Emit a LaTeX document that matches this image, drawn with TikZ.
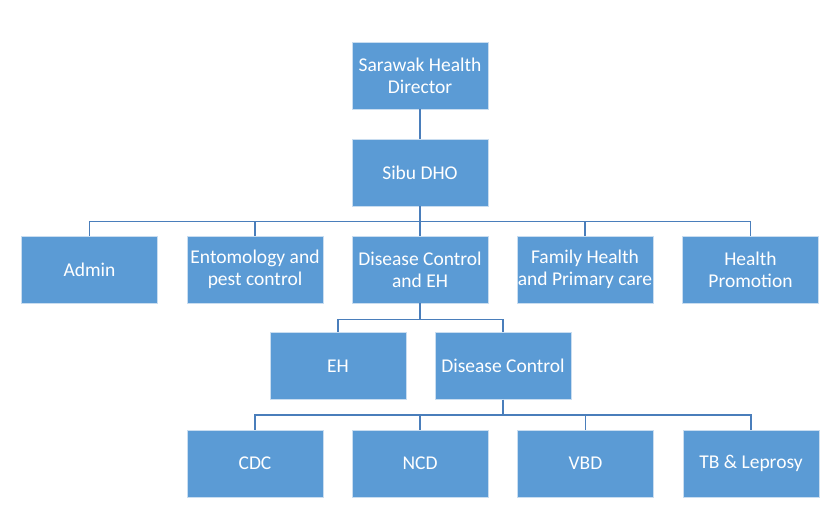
\documentclass[tikz,border=0pt]{standalone}
\usepackage{fontspec}
\setmainfont{Carlito}

\definecolor{boxblue}{HTML}{5B9BD5}
\definecolor{boxrim}{HTML}{C9DDF0}
\definecolor{linkblue}{HTML}{4A7EBB}

\begin{document}
\begin{tikzpicture}[x=1pt,y=-1pt,
  unit/.style={draw=boxrim, line width=0.8pt, fill=boxblue, text=white,
    minimum width=136pt, minimum height=67pt, inner sep=0pt,
    align=center, font=\fontsize{19.5}{22}\selectfont},
  link/.style={draw=linkblue, line width=1.2pt}]

\useasboundingbox (0,0) rectangle (840,520);

% top of the tree
\node[unit] (director) at (420,75.5) {Sarawak Health\\Director};
\node[unit] (sibu) at (420,172.5) {Sibu DHO};

% units under the DHO
\node[unit] (admin) at (89.5,269.5) {Admin};
\node[unit] (ento) at (255,269.5) {Entomology and\\pest control};
\node[unit] (dceh) at (420,269.5) {Disease Control\\and EH};
\node[unit] (family) at (585,269.5) {Family Health\\and Primary care};
\node[unit] (promo) at (750.5,269.5) {Health\\Promotion};

% second level
\node[unit] (eh) at (338,366) {EH};
\node[unit] (dc) at (503,366) {Disease Control};

% programmes
\node[unit] (cdc) at (255,463.5) {CDC};
\node[unit] (ncd) at (420,463.5) {NCD};
\node[unit] (vbd) at (585.5,463.5) {VBD};
\node[unit] (tb) at (751,463.5) {TB \& Leprosy};

\draw[link] (director.south) -- (sibu.north);
\foreach \n in {admin,ento,dceh,family,promo}
  \draw[link] (sibu.south) -- ++(0,15) -| (\n.north);
\foreach \n in {eh,dc}
  \draw[link] (dceh.south) -- ++(0,16) -| (\n.north);
\foreach \n in {cdc,ncd,vbd,tb}
  \draw[link] (dc.south) -- ++(0,15) -| (\n.north);

\end{tikzpicture}
\end{document}
